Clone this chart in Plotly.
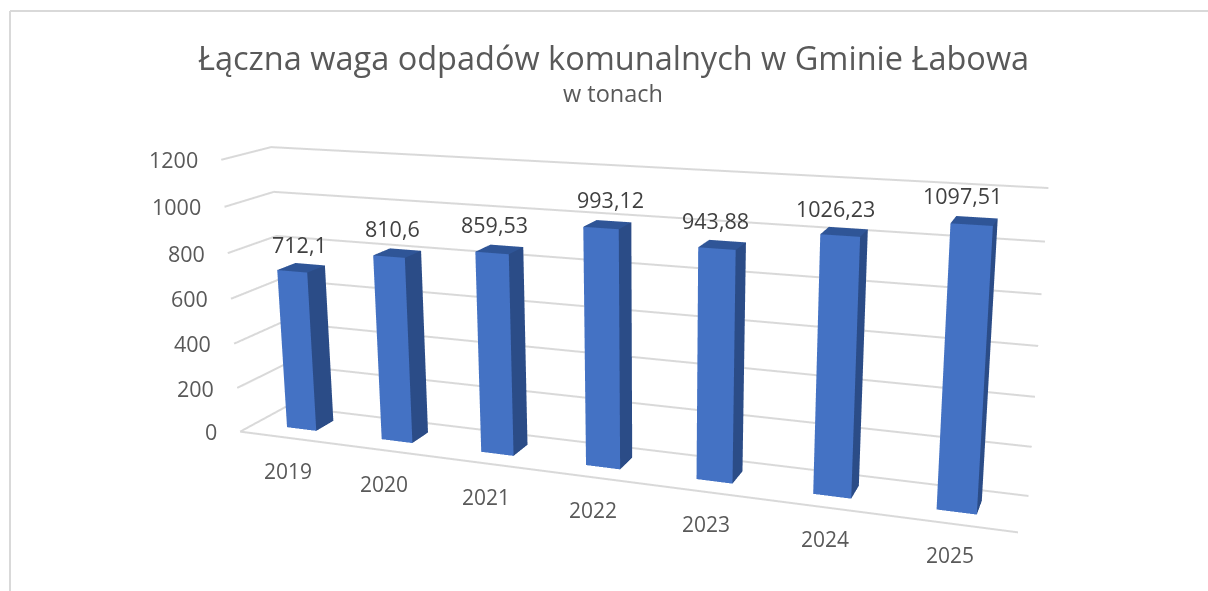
import plotly.graph_objects as go

categories = ["2019", "2020", "2021", "2022", "2023", "2024", "2025"]
values = [712.1, 810.6, 859.53, 993.12, 943.88, 1026.23, 1097.51]
labels = ["712,1", "810,6", "859,53", "993,12", "943,88", "1026,23", "1097,51"]
ticks = [0, 200, 400, 600, 800, 1000, 1200]

W, SHOWN_H = 1208, 591
HF = 1254
TOP = (HF - SHOWN_H) // 2
DEPTH0, DEPTH1, BAR_W = 0.3181, 0.702, 0.3143
C_GRID = "#D9D9D9"
TXT = "#595959"
FONT = "Open Sans"
label_dx = [-2, -5, -5, 3, -7, -9, -12]
label_dy = [23, 25, 25, 25, 24, 23, 25]
cat_dx = [-14, -13, -11, -10, -8, -7, -7]
cat_dy = [-42, -43, -43, -43, -43, -43, -43]


def py(px):
    return 1 - (px + TOP) / HF


fig = go.Figure()


def line(xs, ys, zs):
    fig.add_trace(go.Scatter3d(x=xs, y=ys, z=zs, mode="lines", line=dict(color=C_GRID, width=4), hoverinfo="skip"))


for t in ticks:
    line([0, 0, 7], [0, 1, 1], [t, t, t])
line([0, 7], [0, 0], [0, 0])


def faces(kind, color):
    xs, ys, zs, I, J, K = [], [], [], [], [], []
    for n, v in enumerate(values):
        a, b = n + .5 - BAR_W / 2, n + .5 + BAR_W / 2
        if kind == "front":
            q = [(a, DEPTH0, 0), (b, DEPTH0, 0), (b, DEPTH0, v), (a, DEPTH0, v)]
        elif kind == "side":
            q = [(b, DEPTH0, 0), (b, DEPTH1, 0), (b, DEPTH1, v), (b, DEPTH0, v)]
        else:
            q = [(a, DEPTH0, v), (b, DEPTH0, v), (b, DEPTH1, v), (a, DEPTH1, v)]
        o = len(xs)
        for c in q:
            xs.append(c[0]); ys.append(c[1]); zs.append(c[2])
        I += [o, o]; J += [o + 1, o + 2]; K += [o + 2, o + 3]
    fig.add_trace(go.Mesh3d(x=xs, y=ys, z=zs, i=I, j=J, k=K, color=color, flatshading=True, hoverinfo="skip",
                            lighting=dict(ambient=1, diffuse=0, specular=0, fresnel=0, roughness=1)))


faces("front", "#4472C4")
faces("side", "#2B4C87")
faces("top", "#2F5597")

ann = []
for t in ticks:
    ann.append(dict(x=0, y=0, z=t, text=str(t), showarrow=False, xanchor="right", yanchor="middle", xshift=-21,
                    font=dict(family=FONT, size=21.5, color=TXT)))
for n, c in enumerate(categories):
    ann.append(dict(x=n + .5, y=DEPTH0, z=0, text=c, showarrow=False, xanchor="center", yanchor="middle",
                    xshift=cat_dx[n], yshift=cat_dy[n], font=dict(family=FONT, size=21, color=TXT)))
for n, l in enumerate(labels):
    ann.append(dict(x=n + .5, y=(DEPTH0 + DEPTH1) / 2, z=values[n], text=l, showarrow=False, xanchor="center",
                    yanchor="middle", xshift=label_dx[n], yshift=label_dy[n],
                    font=dict(family=FONT, size=21.5, color="#404040")))

hidden = dict(visible=False, showspikes=False)
fig.update_layout(
    width=W, height=HF, margin=dict(l=0, r=0, t=0, b=0), paper_bgcolor="white", showlegend=False,
    scene=dict(
        dragmode="orbit",
        domain=dict(x=[0, 1], y=[0, 1]), bgcolor="rgba(0,0,0,0)",
        xaxis=dict(range=[0, 7], **hidden), yaxis=dict(range=[0, 1], **hidden), zaxis=dict(range=[0, 1200], **hidden),
        aspectmode="manual", aspectratio=dict(x=1, y=0.1138, z=0.3627),
        camera=dict(eye=dict(x=0.6297, y=-1.6596, z=0.4763), center=dict(x=-0.0484, y=0.1142, z=0),
                    up=dict(x=0.0061, y=0.0063, z=1)),
        annotations=ann),
    annotations=[
        dict(xref="paper", yref="paper", x=613 / W, y=py(58), text="Łączna waga odpadów komunalnych w Gminie Łabowa",
             showarrow=False, font=dict(family=FONT, size=32.5, color=TXT), xanchor="center", yanchor="middle"),
        dict(xref="paper", yref="paper", x=613 / W, y=py(93), text="w tonach", showarrow=False,
             font=dict(family=FONT, size=23.5, color=TXT), xanchor="center", yanchor="middle")],
    shapes=[
        dict(type="line", xref="paper", yref="paper", x0=10 / W, x1=1, y0=py(11), y1=py(11), line=dict(color=C_GRID, width=2)),
        dict(type="line", xref="paper", yref="paper", x0=10 / W, x1=10 / W, y0=py(11), y1=py(SHOWN_H), line=dict(color=C_GRID, width=2))])

fig.write_html(
    "out.html", config=dict(displayModeBar=False),
    post_script="document.body.style.margin='0';document.body.style.overflow='hidden';"
                "document.documentElement.style.overflow='hidden';"
                "document.getElementById('{plot_id}').style.marginTop='-%dpx';" % TOP)
